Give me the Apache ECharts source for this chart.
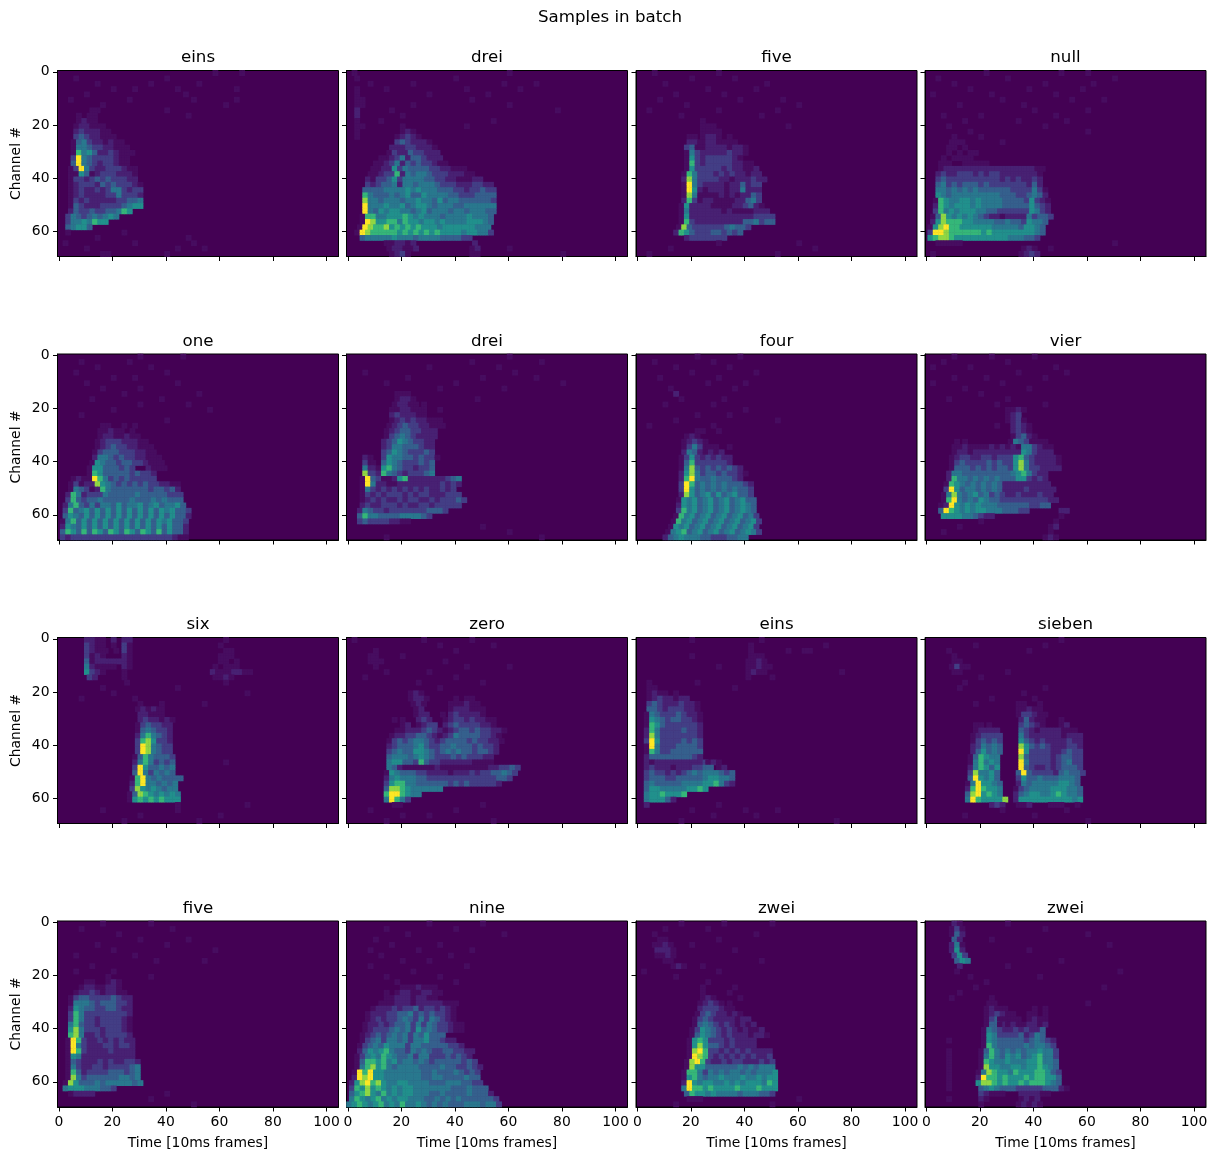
<!DOCTYPE html>
<html><head><meta charset="utf-8">
<style>html,body{margin:0;padding:0;background:#fff}#c{width:1216px;height:1160px}</style>
<script src="https://cdn.jsdelivr.net/npm/echarts@6/dist/echarts.min.js"></script>
</head><body><div id="c"></div>
<script>
const figureTitle = 'Samples in batch';
const panelTitles = ['eins','drei','five','null','one','drei','four','vier','six','zero','eins','sieben','five','nine','zwei','zwei'];
const xTicks = [0,20,40,60,80,100];
const yTicks = [0,20,40,60];
const xLabel = 'Time [10ms frames]';
const yLabel = 'Channel #';
const levelColors = ['#440154','#470d60','#482173','#433e85','#35608d','#29788e','#21908c','#35b779','#8fd744','#fde725'];
// Each string is one row of 2 channels (top to bottom). "f:digits" = starting at frame f, one level digit per 2 frames.
const s0 = ["58:1 68:1","6:1 40:1","14:1 34:1 52:1","20:1 28:1 44:1 66:1","10:1 47:1","4:1 26:1 50:1 66:1","16:1 62:1","12:11 40:1","7:10110 48:1","7:12110","6:122111","6:2322211","6:34322111","5:1453221211","5:15543322111","5:175642232111","5:39543333211","5:49543233211","4:1395322333211","4:1164123332221","4:1332343433322","4:12333243433321","4:12322323553233","4:12322223353332","4:13232222233445","4:14322233334566","4:243343344576","3:3543454565","3:35565766","3:45664","3:1 24:1","14:1 48:1","2:1 28:1 50:1","10:1 44:1 54:1","16:11 40:1"];
const s1 = ["2:1 60:1","3:1 40:1","8:1 24:1 58:1 70:1","3:1 14:1 44:1 64:1","3:1 30:1 52:1","3:11 46:1","3:11 24:1 60:1","3:2 16:1 78:1","3:2 20:1","3:1 12:1 54:1","3:11 20:1 44:1","3:1 20:121","3:1 18:12321","18:3432221","16:22233_2221","15:13224_33222","12:11235_24432_22","10:11235_24343_3211","9:11226_35444_43322_111","8:11233_72545_54333_22211","7:21334_63555_54433_22111_22","7:32344_52554_55543_33222_3322","6:44445_55565_65554_44332_33433","6:75444_54564_46555_54433_34444","6:85545_55455_65546_45544_44443","6:95556_55645_66545_55445_55555","6:95465_66554_56455_54554_55544","5:17755_66676_56555_45555_65554","5:19866_77576_65665_65555_66654","4:19877_86767_67666_56666_66555","3:19877_77767_67676_76666_56655_3","5:45555_56555_45555_44443_3","14:11221_2 47:2","15:122112 46:12 60:1","16:1231 46:11 80:1"];
const s2 = ["6:1 30:1","20:1 36:1","10:1 48:1","26:1 44:1","14:1 32:1","8:1 38:1 54:1","18:1 60:1","4:1 30:1 52:1","16:1 46:1","24:1","24:111 56:1","24:1111 30:1","19:11 24:1221 34:1","19:221 24:1221 32:111","18:34112_22212_21","18:15322_22232_21","18:16323_33332_1","18:17323_33332_211","18:16333_33232_2112","17:17533_32323_22122","17:28533_33221_22232_2","17:19532_22212_24233","17:19621_22212_25222","17:18511_11212_12243","17:27312_21111_22453","16:16222_21111_22342_1","16:15222_22212_11112_22","16:16222_22222_22223_333","16:17322_22222_22445_344","15:18433_33334_5443","14:27643_33443_434","18:23333_333","30:1 60:1","12:1 66:1","4:1 52:1"];
const s3 = ["22:1 50:1 60:1","4:1 30:1 70:1","10:1 44:1 62:1","16:1 38:1 58:1","2:1 24:1 48:1","28:1 54:1 66:1","12:1 36:1","40:1 60:1","6:1 20:1 48:1","14:1 34:1 52:1","8:1 44:1","16:1 60:1","10:1 20:1","9:111 28:1","8:11 14:1","8:1 12:1 16:11","6:1 10:1111 16:1","5:11 8:1 14:111 20:11","5:12222_22222_22222_22211","4:23223_33232_33222_22221","4:34333_33333_33232_32232","4:45343_44434_33333_33242","4:55454_54544_44443_33353_1","4:65455_55555_55444_33454_2","3:17655_66565_55544_44363_21","3:27656_66565_55544_44464_32","3:37565_66655_44333_33365_32","2:14865_65654_32212_22253_443","2:26877_76655_55445_44365_54","1:16897_76666_66555_55466_54","1:39987_77777_67666_66666_54","1:67887_66666_66666_55544_3","4:11111 70:1","36:121 46:1","2:1 35:1232"];
const s4 = ["30:1 46:1","8:1 26:1","14:1 34:1","6:1 40:1","20:1 28:1","10:1 44:1","16:1 30:1","24:1 52:1","12:1 38:1","30:1 48:1","20:1 56:1","8:1","40:1","16:11 24:1 28:1 ","15:1121101","15:12211211","14:1233322211","14:12343322111","13:134443332211","13:2554343322111","12:16544344332111","11:166444343 33:2111","11:1764444434332","5:12119_75343_43333_3","4:13122_86543_43434_33221_1","4:15431_27544_44444_34434_2","3:27523_33544_44454_44443_33","3:37434_45444_44544_45454_44","2:25743_53554_64556_45645_564","2:37456_46464_64646_46465_6443","2:46546_46464_64646_46464_6442","1:15746_46464_64646_46465_6443","1:26546_46464_64646_46464_6442","1:47647_47647_64764_76474_6442","1:32333_33333_33333_33333_3211"];
const s5 = ["60:1","46:1 72:1","30:1 56:1","6:1 62:1","22:1 50:1 70:1","14:1 40:1 80:1","34:1 58:1","18:111","18:1221 48:1","17:12211 28:1","16:1122111 34:1","16:2322211","16:1232322111","15:12343322111","14:1234433222","14:1345432222","13:2346543322","13:2355444322","13:3465433343","6:21 13:36554434331","6:31 9:1 13:46543_33434","6:52 9:21 13:67543_32334","6:83 9:32 13:75432_33345","5:19431_12672_22222_2345","5:19522_11222_22222_3232","5:15323_23232_32322_323","5:13232_33323_23322_2333","5:12323_22323_32232_33343","5:23223_33232_23323_3333","4:25433_23333_33344_43","4:47554_44455_5543","4:34333_32211","50:1","60:1","14:1 72:1"];
const s6 = ["22:1 38:1","6:1 28:1","14:1 34:1","20:1 44:1","8:1 30:1","26:1 40:1","12:1 36:1","14:2","16:1 32:1","10:1 28:1","40:1","22:1 34:1","14:1 52:1","4:1 28:1","22:11 30:1","18:121 ","17:12321","17:1353111 34:1","17:25421_212","16:13632_32322","16:14733_33332","16:15843_43434_32","16:26853_44343_321","16:27954_45444_32","16:39745_45454_4432","16:39645_45454_5443","16:28645_64645_6443","15:16564_56456_45644","15:26564_56456_45654","15:37564_56456_45654","14:17564_56456_45645_3","13:17564_56456_45645_63","12:16564_56456_45645_63","11:15674_56456_45645_653","10:24565_55443_33445_5"];
const s7 = ["10:1 24:1 40:1","6:1 30:1","2:1 16:1 48:1","34:1 52:1","10:1 22:1 44:1","2:1 28:1","14:1 38:1","20:1","8:1 30:1","26:1 44:1","30:1121","30:123","30:1231","32:2321 26:1","32:2321 38:1","32:13421","11:1 14:1 31:15431 40:111","10:11211_11212_12155_3211","10:12212_22222_22265_3222","9:12332_23323_33674_32222_1","9:13433_33434_33685_32222_1","9:14443_43434_43685_33222_2","8:25544_44444_44567_5322","8:27554_54545_44466_3232","7:17654_54545_42222_22222","7:39645_54545_42222_32222_2","6:15854_56453_43223_22232_2","6:17954_54654_43333_33333_22","5:12965_65655_54444_44334_4","5:49765_65665_55444_33 50:22","6:66665_54322 50:1","20:1 48:1","12:1 46:12","6:1 46:1","44:121"];
const s8 = ["10:2211 20:2 24:22 62:1","10:3211 16:1 20:1 24:31 60:1","10:3211 17:1 21:1 24:31 62:11","10:3122 16:1 24:21 60:111","10:4122 16:2222 24:21 60:11 66:1","10:5212 16:1 18:11 24:21 58:1 62:11 66:1","10:6321 16:1 24:1 57:21112211","11:32 24:1 58:1121","25:1 62:1","16:1 44:1","20:1 70:1","8:1 28:1","30:1 38:1 54:1","29:12121 38:1","30:2211 36:11","30:2322121","29:1343322","29:1454332","29:2575432","29:3786332","29:3985433","29:3985433","28:14754443","28:25753434 62:1","28:39644545","28:49535454","27:17954_54444","27:279554545","27:386565455","26:14876_56565","26:16767_67666","44:1 70:1","16:1 44:1","30:1 60:1","24:1 52:1"];
const s9 = ["2:1 28:1 46:1","34:1 54:1","10:1 40:1","8:11 20:1","8:111 36:1","10:1 44:1 60:1","14:1 30:1","6:1 40:1","26:1 50:1","34:1","23:121","23:1221 40:1 44:11","24:121 38:111211","25:12 38:1222111","25:122 35:1 38:2322221","17:1 20:1 26:232 36:1233232211","20:12 26:1233 36:2343333221","18:11222_34321_23443_43322_1","16:12233_44321_23544_44332_1","15:13434_55432_34444_34332_21","15:23444_56433_44544_43433_2","15:34544_66543_45454_43443_2","15:45554_56543_33434_33322","15:56644_37433_22222_21111","15:54211_11112_11111_11112_23343","14:16544_43322_22122_23233_44543","14:25655_54433_33333_33333_3443","14:36775_54444_44343_43333_32","14:48876_55555_5","14:79976_55","14:5975_3","17:11 50:1","8:1 40:1","20:1 30:1","14:1 54:1"];
const s10 = ["20:1 46:1","42:1 70:1","42:1 56:1 62:11","42:111 20:1","41:1121","41:11211 30:1","41:1211 76:1","41:1 50:1","4:1 22:1","4:11 36:1","4:1211 14:1","4:12322_122","4:34322_23221","4:44323_33221","3:15433_34322_1","3:16543_44332_1","3:17643_33333_2","3:27533_33433_2","3:28533_33333_2","3:39633_33434_3","3:19533_34444_3","3:17533_44444_4","3:24444_44443_2","3:21222_22222_23 26:121","3:23222_12223_344 30:12","3:34332_32345_45554_34","3:34443_34444_45665_54","3:45444_44555_56675_32","3:46655_55566_76","3:56676_667","3:56664_2","3:2 30:1","20:1 40:1 52:1","28:1 44:1","16:1 74:1"];
const s11 = ["50:1","18:1 44:1","8:1 38:1","10:1","10:11","9:1311","10:11 30:1","20:1","14:1","12:1 44:1","36:1","24:1 40:1","18:1 34:11 42:1","34:11211 42:1","34:13321 44:1","35:24211 50:1","18:1 20:1 23:1 35:34321 50:12","18:12222 35:43212_22211_1","17:123333 35:53222_22212_22","17:134343 35:64323_22223_22","17:235454 35:86434_32223_32","17:246454 35:96333_32234_33","16:147655 35:84333_32344_33","16:157565 35:95333_32345_33","16:257646 35:94322_32344_43","16:385564 34:49433_33245_443","16:496564 34:36445_44455_54","15:1596654 34:25455_55566_54","15:2797665 33:13455_55666_554","15:4896765 33:24566_55676_554","15:59766_668 33:26666_66666_656","24:232 34:112 46:111 56:1","28:1 52:1","14:1 40:1","60:1"];
const s12 = ["16:1 34:1","8:1 42:1","22:1","30:1 48:1","14:1 40:1","20:1 58:1","6:1 28:1","36:1 54:1","12:1","6:1 20:1","18:1 34:1","10:11 18:121","8:1221 16:1221","6:122321 16:12211","4:13443_33343_22","4:15554_34443_32","4:26544_33443_22","4:37533_33333_32","4:37533_23333_21","4:57433_23333_21","4:68533_32333_21","4:78522_32333_32","3:19732_23232_322","3:19532_22332_332","3:19732_22232_222","3:16522_22222_222","3:14322_23232_2332","3:15322_33233_3345","3:17423_33344_4345","3:18534_44444_5545","2:18644_45455_55545","2:56665_55443","4:12222 40:1","34:1","50:1"];
const s13 = ["30:1 50:1","14:1 40:1","22:1 58:1","10:1","16:1 34:1","8:1 26:1 46:1","12:1 38:1","30:1 20:1","8:1 44:1","24:1","34:1 14:1","18:1 40:1","20:1112 28:111","14:1 18:1221 26:12211 34:1","14:11222 24:12211 32:1","12:11122_21222_22111","9:12223_23342_33232_1","7:12223_34453_43433_21","7:12323_34543_53543_21","6:12232_34453_53543_3211","6:12333_45453_64543_3211","5:12343_45453_54644_4","5:13453_55453_55644_322","4:13454_65553_55444_44332","4:24656_75443_54543_34433_22","3:13565_76544_53553_33434_32","3:14776_75645_54543_44444_343","3:15786_75455_55444_45443_3432","2:19796_65555_55544_54445_4343","2:29896_65555_55544_55444_4544","1:26897_86556_65555_44455_54433","1:37686_76565_66555_55554_44544_4","1:46786_57565_66555_44544_44544_42","1:57656_75656_65554_45454_54444_443","0:56765_67565_75565_45454_44555_4553"];
const s14 = ["16:1 32:1 50:1","10:1 26:1","6:1 44:1","8:11 30:1","6:1121 20:1","7:2221 36:1","7:1121","10:11 46:1","13:121 24:1","2:1 30:1","14:1","26:1","24:1 36:1","24:1 34:1","24:121 38:1","23:12321 34:1","23:23332_11","22:13432_2121","21:13432_22212_2","21:14543_23212_12","20:13654_32321_2112","20:14654_32322_21221","19:16763_33232_222","19:16864_43232_222","19:18973_32323_23222_2","19:19873_23232_32322_3","18:18973_22323_32223_23","18:18664_44444_54545_55","17:17753_54545_54545_556","17:16754_55655_56556_566","17:29656_65565_65666_576","17:59776_76666_76667_666","18:47665_65555_45554_43","19:111 60:1","14:1 50:1"];
const s15 = ["10:21 30:1","9:131 44:1","9:142 60:1","10:42 24:1","9:251 68:1","9:262 38:1","10:363","11:465 50:1","12:2 30:1","11:1 72:1","16:1 42:1","22:1","18:1 66:1","12:1","9:1 24:1","23:11 60:1","22:1211 29:1 40:1 44:1","22:12321 30:11 38:11 44:1","22:13421 27:11 30:111 38:121 42:11","22:14421 27:121 30:121 36:12212","21:15432_23232_24","21:16533_33423_54","8:1 21:16544_44434_5432","21:17544_44454_5543","8:1 20:14754_54545_56553","8:1 20:15754_65645_67553","8:1 20:17655_65556_67554","8:1 20:18665_56656_67654","8:1 19:15876_65766_67764_3","8:1 19:29776_76667_67766_4","8:1 19:68876_76676_77765_4","8:1 20:45654_44333_33444_21","20:32111 35:22221 45:1","8:1 20:21 35:1212","20:1 34:12121"];
const panels = [s0,s1,s2,s3,s4,s5,s6,s7,s8,s9,s10,s11,s12,s13,s14,s15];

const FONT = 'DejaVu Sans';
const gridLefts = [57.5,346.5,636,925];
const gridTops = [70.5,354,637.5,921];
const W = 281, H = 186;
const xCats = Array.from({length:105},(_,i)=>String(i));
const yCats = Array.from({length:70},(_,i)=>String(i));
const isX = i => xTicks.includes(i), isY = i => yTicks.includes(i);
const chart = echarts.init(document.getElementById('c'),null,{renderer:'canvas'});
const tStyle = {fontFamily:FONT,fontSize:16.67,fontWeight:'normal',color:'#000'};
const grid=[],xAxis=[],yAxis=[],series=[],title=[{text:figureTitle,left:605,top:4,textAlign:'center',textStyle:tStyle}];
panels.forEach((rows,k)=>{
  const c=k%4,r=Math.floor(k/4);
  grid.push({left:gridLefts[c],top:gridTops[r],width:W,height:H,show:true,backgroundColor:levelColors[0],borderColor:'#000',borderWidth:1});
  title.push({text:panelTitles[k],left:gridLefts[c]+W/2-5,top:gridTops[r]-26,textAlign:'center',textStyle:tStyle});
  xAxis.push({type:'category',gridIndex:k,data:xCats,boundaryGap:true,
    name:r===3?xLabel:'',nameLocation:'middle',nameGap:29,nameTextStyle:{fontFamily:FONT,fontSize:13.9,color:'#000'},
    axisLine:{show:true,lineStyle:{color:'#000',width:1}},splitLine:{show:false},
    axisTick:{show:true,alignWithLabel:true,length:4.5,interval:i=>isX(i),lineStyle:{color:'#000',width:1}},
    axisLabel:{show:r===3,interval:i=>isX(i),fontFamily:FONT,fontSize:13.9,color:'#000',margin:8,hideOverlap:false}});
  yAxis.push({type:'category',gridIndex:k,data:yCats,inverse:true,boundaryGap:true,
    name:c===0?yLabel:'',nameLocation:'middle',nameGap:34,nameRotate:90,nameTextStyle:{fontFamily:FONT,fontSize:13.9,color:'#000'},
    axisLine:{show:true,lineStyle:{color:'#000',width:1}},splitLine:{show:false},
    axisTick:{show:true,alignWithLabel:true,length:4.5,interval:i=>isY(i),lineStyle:{color:'#000',width:1}},
    axisLabel:{show:c===0,interval:i=>isY(i),fontFamily:FONT,fontSize:13.9,color:'#000',margin:8,hideOverlap:false}});
  const data=[];
  rows.forEach((row,ri)=>{
    row.trim().split(/\s+/).forEach(seg=>{
      if(!seg) return;
      const [st,digits]=seg.split(':');
      const ds=digits.replace(/_/g,'');
      for(let ci=0;ci<ds.length;ci++){
        const v=+ds[ci];
        if(!v) continue;
        for(let dy=0;dy<2;dy++) for(let dx=0;dx<2;dx++){
          const fx=+st+ci*2+dx, fy=ri*2+dy;
          if(fx<105&&fy<70) data.push([fx,fy,v]);
        }
      }
    });
  });
  series.push({type:'heatmap',xAxisIndex:k,yAxisIndex:k,data,progressive:0,animation:false,itemStyle:{borderWidth:0},emphasis:{disabled:true},silent:true});
});
chart.setOption({animation:false,backgroundColor:'#fff',title,grid,xAxis,yAxis,series,
  visualMap:{show:false,type:'continuous',min:0,max:9,seriesIndex:series.map((_,i)=>i),inRange:{color:levelColors}}});
</script></body></html>
